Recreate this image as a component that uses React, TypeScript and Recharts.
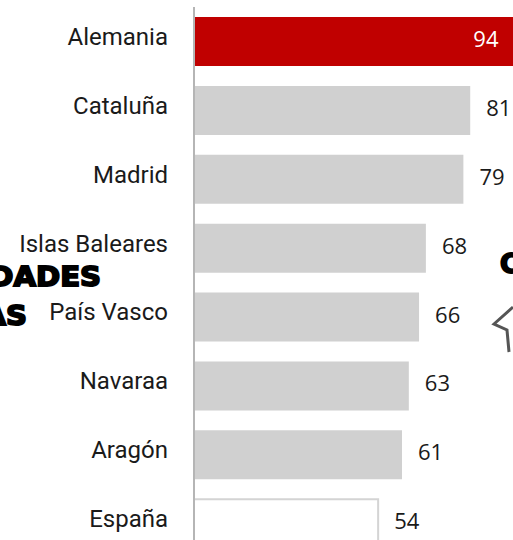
import React from 'react';
import { BarChart, Bar, XAxis, YAxis, LabelList, Cell } from 'recharts';

const categories = ['Alemania', 'Cataluña', 'Madrid', 'Islas Baleares', 'País Vasco', 'Navaraa', 'Aragón', 'España'];
const values = [94, 81, 79, 68, 66, 63, 61, 54];
const highlightName = 'Alemania';
const referenceName = 'España';

const data = categories.map((name, i) => ({ name, value: values[i] }));

const TEXT = '#1a1a1a';
const RED = '#c00000';
const GRAY = '#d0d0d0';

const renderTick = (props: any) => {
  const { x, y, payload } = props;
  return (
    <text
      x={x}
      y={y + 3.5}
      textAnchor="end"
      fontFamily="Roboto"
      fontSize={24}
      fill={TEXT}
    >
      {payload.value}
    </text>
  );
};

const renderLabel = (props: any) => {
  const vb = props.viewBox || props;
  const { x, y, width, height } = vb;
  const idx = props.index;
  const inside = data[idx] && data[idx].name === highlightName;
  const cy = y + height / 2 + 5.5;
  if (inside) {
    return (
      <text x={x + width - 16} y={cy} textAnchor="end" fontFamily="Open Sans" fontSize={22} fill="#ffffff">
        {props.value}
      </text>
    );
  }
  return (
    <text x={x + width + 16} y={cy} textAnchor="start" fontFamily="Open Sans" fontSize={22} fill={TEXT}>
      {props.value}
    </text>
  );
};

export default function App() {
  return (
    <div style={{ position: 'fixed', left: 0, top: 0, width: 513, height: 540, overflow: 'hidden', background: '#fff' }}>
      <svg width={513} height={540} style={{ position: 'absolute', left: 0, top: 0 }}>
        <g fontFamily="DejaVu Sans" fontWeight="bold" fontSize={26} fill="#000" stroke="#000" strokeWidth={1.8}>
          <g transform="translate(101,0) scale(1.12,1)">
            <text x={0} y={286} textAnchor="end">COMUNIDADES</text>
          </g>
          <g transform="translate(27,0) scale(1.12,1)">
            <text x={0} y={325} textAnchor="end">AUTÓNOMAS</text>
          </g>
          <text x={500} y={273} textAnchor="start">C</text>
        </g>
        <polyline points="513,307 494,324 507,330 509,352" fill="none" stroke="#555555" strokeWidth={3} strokeLinejoin="miter" />
      </svg>
      <div style={{ position: 'absolute', left: 0, top: 0 }}>
        <BarChart
          layout="vertical"
          width={540}
          height={558}
          data={data}
          margin={{ top: 7, right: 5, bottom: 0, left: 0 }}
        >
          <XAxis type="number" domain={[0, 100]} hide />
          <YAxis
            type="category"
            dataKey="name"
            width={194}
            axisLine={{ stroke: '#b5b5b5', strokeWidth: 2 }}
            tickLine={false}
            tickMargin={20}
            interval={0}
            tick={renderTick}
          />
          <Bar dataKey="value" barSize={49} isAnimationActive={false}>
            {data.map((d) => (
              <Cell
                key={d.name}
                fill={d.name === highlightName ? RED : d.name === referenceName ? '#ffffff' : GRAY}
                stroke={d.name === referenceName ? '#d4d4d4' : 'none'}
                strokeWidth={d.name === referenceName ? 2 : 0}
              />
            ))}
            <LabelList dataKey="value" content={renderLabel} />
          </Bar>
        </BarChart>
      </div>
    </div>
  );
}
